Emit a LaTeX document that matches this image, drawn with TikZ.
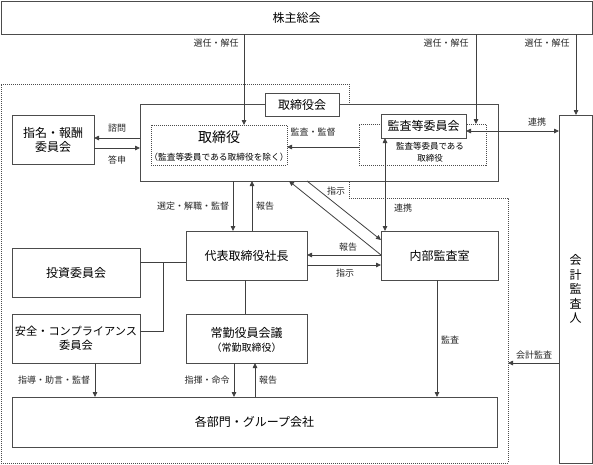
\documentclass[tikz,border=0pt]{standalone}
\usepackage{fontspec}
\setmainfont{Noto Sans CJK JP}
\usetikzlibrary{arrows.meta}
\begin{document}
\begin{tikzpicture}[x=1pt,y=-1pt,
  line/.style={draw=black!75, line width=0.8pt},
  arr/.style={line, -{Triangle[length=5pt,width=4.5pt]}},
  darr/.style={line, {Triangle[length=5pt,width=4.5pt]}-{Triangle[length=5pt,width=4.5pt]}},
  box/.style={draw=black!70, line width=0.9pt, fill=white, inner sep=0pt, outer sep=0pt, align=center, font=\fontsize{12}{14}\selectfont},
  dbox/.style={draw=black!70, line width=0.8pt, dash pattern=on 1pt off 1pt, inner sep=0pt, outer sep=0pt},
  region/.style={draw=black!70, line width=0.8pt, dash pattern=on 1pt off 1pt},
  lbl/.style={inner sep=0pt, font=\fontsize{9}{10}\selectfont, text=black!85},
  txt/.style={inner sep=0pt, align=center},
]
\useasboundingbox (0,0) rectangle (593,464);

% dotted region
\draw[region] (1,84) -- (349,84) -- (349,198) -- (508,198) -- (508,463) -- (1,463) -- cycle;

% boxes
\node[box, minimum width=591pt, minimum height=33pt] (soukai) at (296.5,17.5) {株主総会};
\node[box, minimum width=358pt, minimum height=77pt] (torikai) at (319,142.5) {};
\node[box, minimum width=74pt, minimum height=23pt] (torikailbl) at (302,104.5) {取締役会};
\node[dbox, minimum width=136pt, minimum height=40pt] (tori) at (219,145) {};
\node[txt, font=\fontsize{14}{16}\selectfont] (toritxt) at (219,137) {取締役};
\node[txt, font=\fontsize{8.7}{10}\selectfont] (toritxt2) at (219,157) {（監査等委員である取締役を除く）};
\node[dbox, minimum width=127pt, minimum height=41pt] (kansa) at (422.5,144.5) {};
\node[box, minimum width=85pt, minimum height=24pt] (kansaiinkai) at (423.5,126) {監査等委員会};
\node[txt, font=\fontsize{8.5}{12}\selectfont] (kansatxt) at (430,152) {監査等委員である\\取締役};
\node[box, minimum width=82pt, minimum height=49pt] (shimei) at (53,139.5) {指名・報酬\\委員会};
\node[box, minimum width=121pt, minimum height=49pt] (daihyo) at (246.5,255.5) {代表取締役社長};
\node[box, minimum width=117pt, minimum height=49pt] (naibu) at (439.5,255.5) {内部監査室};
\node[box, minimum width=128pt, minimum height=49pt] (toushi) at (76,272.5) {投資委員会};
\node[box, minimum width=128pt, minimum height=49pt, font=\fontsize{11.2}{14}\selectfont] (anzen) at (76,338.5) {安全・コンプライアンス\\委員会};
\node[box, minimum width=121pt, minimum height=49pt] (joukin) at (246.5,338.5) {};
\node[txt, font=\fontsize{12}{14}\selectfont] (joukintxt) at (246.5,333) {常勤役員会議};
\node[txt, font=\fontsize{10}{12}\selectfont] (joukintxt2) at (246.5,347.5) {（常勤取締役）};
\node[box, minimum width=485pt, minimum height=50pt] (kakubu) at (254.5,422) {各部門・グループ会社};
\node[box, minimum width=33pt, minimum height=348pt, font=\fontsize{12}{14.5}\selectfont] (kaikei) at (575.5,289) {会\\計\\監\\査\\人};

% helper coordinates
\coordinate (cx244) at (244,0);
\coordinate (cx476) at (476,0);
\coordinate (cx576) at (576,0);
\coordinate (cx385) at (385,0);
\coordinate (cx233) at (233,0);
\coordinate (cx252) at (252,0);
\coordinate (cx289) at (289,0);
\coordinate (cx307) at (307,0);
\coordinate (cx163) at (163,0);
\coordinate (cx245) at (245,0);
\coordinate (cx95) at (95,0);
\coordinate (cx234) at (234,0);
\coordinate (cx255) at (255,0);
\coordinate (cx437) at (437,0);
\coordinate (cy147) at (0,147);
\coordinate (cy138) at (0,138);
\coordinate (cy148) at (0,148);
\coordinate (cy131) at (0,131);
\coordinate (cy255) at (0,255);
\coordinate (cy240) at (0,240);
\coordinate (cy265) at (0,265);
\coordinate (cy262) at (0,262);
\coordinate (cy331) at (0,331);
\coordinate (kaidot) at (508,363);

% connectors
\draw[arr] (cx244 |- soukai.south) -- (cx244 |- tori.north);
\draw[arr] (cx476 |- soukai.south) -- (cx476 |- kansa.north);
\draw[arr] (cx576 |- soukai.south) -- (cx576 |- kaikei.north);
\draw[arr] (cy147 -| kansa.west) -- (cy147 -| tori.east);
\draw[arr] (cy138 -| torikai.west) -- (cy138 -| shimei.east);
\draw[arr] (cy148 -| shimei.east) -- (cy148 -| torikai.west);
\draw[darr] (cy131 -| kansaiinkai.east) -- (cy131 -| kaikei.west);
\draw[darr] (cx385 |- kansaiinkai.south) -- (cx385 |- naibu.north);
\draw[arr] (cx233 |- torikai.south) -- (cx233 |- daihyo.north);
\draw[arr] (cx252 |- daihyo.north) -- (cx252 |- torikai.south);
\draw[arr] (cy255 -| naibu.west) -- (cx289 |- torikai.south);
\draw[arr] (cx307 |- torikai.south) -- (cy240 -| naibu.west);
\draw[arr] (cy255 -| naibu.west) -- (cy255 -| daihyo.east);
\draw[arr] (cy265 -| daihyo.east) -- (cy265 -| naibu.west);
\draw[line] (cy262 -| daihyo.west) -- (cy262 -| toushi.east);
\draw[line] (cx163 |- cy262) -- (cx163 |- cy331) -- (cy331 -| anzen.east);
\draw[line] (cx245 |- daihyo.south) -- (cx245 |- joukin.north);
\draw[arr] (cx95 |- anzen.south) -- (cx95 |- kakubu.north);
\draw[arr] (cx234 |- joukin.south) -- (cx234 |- kakubu.north);
\draw[arr] (cx255 |- kakubu.north) -- (cx255 |- joukin.south);
\draw[arr] (cx437 |- naibu.south) -- (cx437 |- kakubu.north);
\draw[arr] (kaidot -| kaikei.west) -- (kaidot);

% labels
\node[lbl] (l1) at (216,43) {選任・解任};
\node[lbl] (l2) at (446,43) {選任・解任};
\node[lbl] (l3) at (547,43) {選任・解任};
\node[lbl] (l4) at (313,132) {監査・監督};
\node[lbl] (l5) at (117,128) {諮問};
\node[lbl] (l6) at (117,160) {答申};
\node[lbl] (l7) at (537,122) {連携};
\node[lbl] (l8) at (403,208) {連携};
\node[lbl] (l9) at (193,206) {選定・解職・監督};
\node[lbl] (l10) at (265,206) {報告};
\node[lbl] (l11) at (336,191) {指示};
\node[lbl] (l12) at (348,247) {報告};
\node[lbl] (l13) at (345,273) {指示};
\node[lbl] (l14) at (54,380) {指導・助言・監督};
\node[lbl] (l15) at (207,380) {指揮・命令};
\node[lbl] (l16) at (268,380) {報告};
\node[lbl] (l17) at (450,340) {監査};
\node[lbl] (l18) at (534,355) {会計監査};
\end{tikzpicture}
\end{document}
